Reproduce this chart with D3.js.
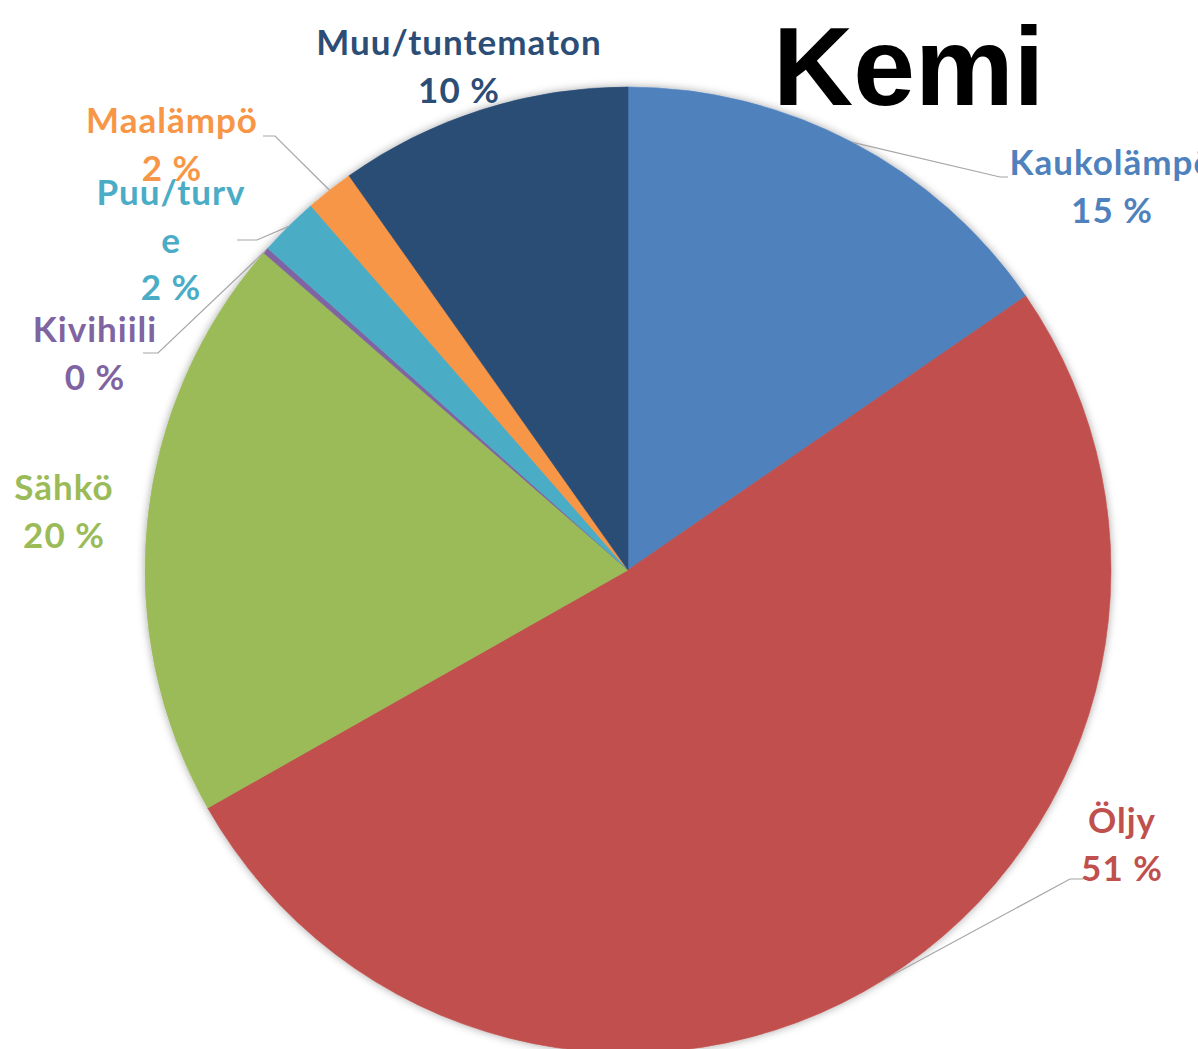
<!DOCTYPE html>
<html>
<head>
<meta charset="utf-8">
<script src="https://cdn.jsdelivr.net/npm/d3@7"></script>
<style>
  body { margin: 0; background: #fff; }
  .lbl { font-family: Lato, "Open Sans", sans-serif; font-weight: bold; font-size: 35px; letter-spacing: 1px; }
  .title { font-family: "Liberation Sans", Arial, sans-serif; font-weight: bold; font-size: 111px; }
</style>
</head>
<body>
<div id="chart"></div>
<script>
// data
var categories = ["Kaukolämpö", "Öljy", "Sähkö", "Kivihiili", "Puu/turve", "Maalämpö", "Muu/tuntematon"];
var values = [15.4, 51.4, 19.6, 0.2, 2.0, 1.6, 9.8];
var colors = ["#4f81bd", "#c0504d", "#9bbb59", "#8064a2", "#4bacc6", "#f79646", "#2c4d75"];
// label lines as shown (Puu/turve is wrapped in the original)
var labelLines = [["Kaukolämpö"], ["Öljy"], ["Sähkö"], ["Kivihiili"], ["Puu/turv", "e"], ["Maalämpö"], ["Muu/tuntematon"]];

var width = 1198, height = 1049;
var cx = 628, cy = 570, radius = 483;

var svg = d3.select("#chart").append("svg")
    .attr("width", width)
    .attr("height", height);

var defs = svg.append("defs");
var shadow = defs.append("filter").attr("id", "shadow")
    .attr("x", "-10%").attr("y", "-10%").attr("width", "120%").attr("height", "120%");
shadow.append("feDropShadow")
    .attr("dx", 0).attr("dy", 0)
    .attr("stdDeviation", 4)
    .attr("flood-color", "#000")
    .attr("flood-opacity", 0.35);

var g = svg.append("g")
    .attr("transform", "translate(" + cx + "," + cy + ")");

var pie = d3.pie().sort(null).value(function(d) { return d; });
var arcs = pie(values);

var arc = d3.arc().innerRadius(0).outerRadius(radius);

g.append("g")
    .attr("filter", "url(#shadow)")
    .selectAll("path")
    .data(arcs)
    .enter().append("path")
    .attr("d", arc)
    .attr("fill", function(d, i) { return colors[i]; })
    .attr("stroke", function(d, i) { return colors[i]; })
    .attr("stroke-width", 0.6);

// label placement (text centre x, first baseline y) and leader stubs
var labelPos = [
  {x: 1112, y: 175, lead: [[1008, 177], [1000, 177]]},
  {x: 1122, y: 833, lead: [[1083, 879], [1070, 879]]},
  {x: 64,   y: 500, lead: null},
  {x: 95,   y: 342, lead: [[143, 353], [158, 353]]},
  {x: 171,  y: 205, lead: [[237, 240], [257, 240]]},
  {x: 172,  y: 133, lead: [[263, 136], [275, 136]]},
  {x: 459,  y: 55,  lead: null}
];
var lineGap = 47.5;

// leader lines to the outer edge at the slice's middle angle
var line = d3.line();
arcs.forEach(function(d, i) {
  var p = labelPos[i];
  if (!p.lead) return;
  var a = (d.startAngle + d.endAngle) / 2;
  var edge = [cx + radius * Math.sin(a), cy - radius * Math.cos(a)];
  svg.append("path")
      .attr("d", line(p.lead.concat([edge])))
      .attr("fill", "none")
      .attr("stroke", "#a6a6a6")
      .attr("stroke-width", 1.2);
});

// labels
var total = d3.sum(values);
arcs.forEach(function(d, i) {
  var p = labelPos[i];
  var lines = labelLines[i].concat([Math.round(values[i] / total * 100) + " %"]);
  var t = svg.append("text")
      .attr("class", "lbl")
      .attr("text-anchor", "middle")
      .attr("fill", colors[i]);
  lines.forEach(function(s, j) {
    t.append("tspan")
        .attr("x", p.x)
        .attr("y", p.y + j * lineGap)
        .text(s);
  });
});

// title
svg.append("text")
    .attr("class", "title")
    .attr("x", 773)
    .attr("y", 105)
    .attr("fill", "#000")
    .text("Kemi");
</script>
</body>
</html>
